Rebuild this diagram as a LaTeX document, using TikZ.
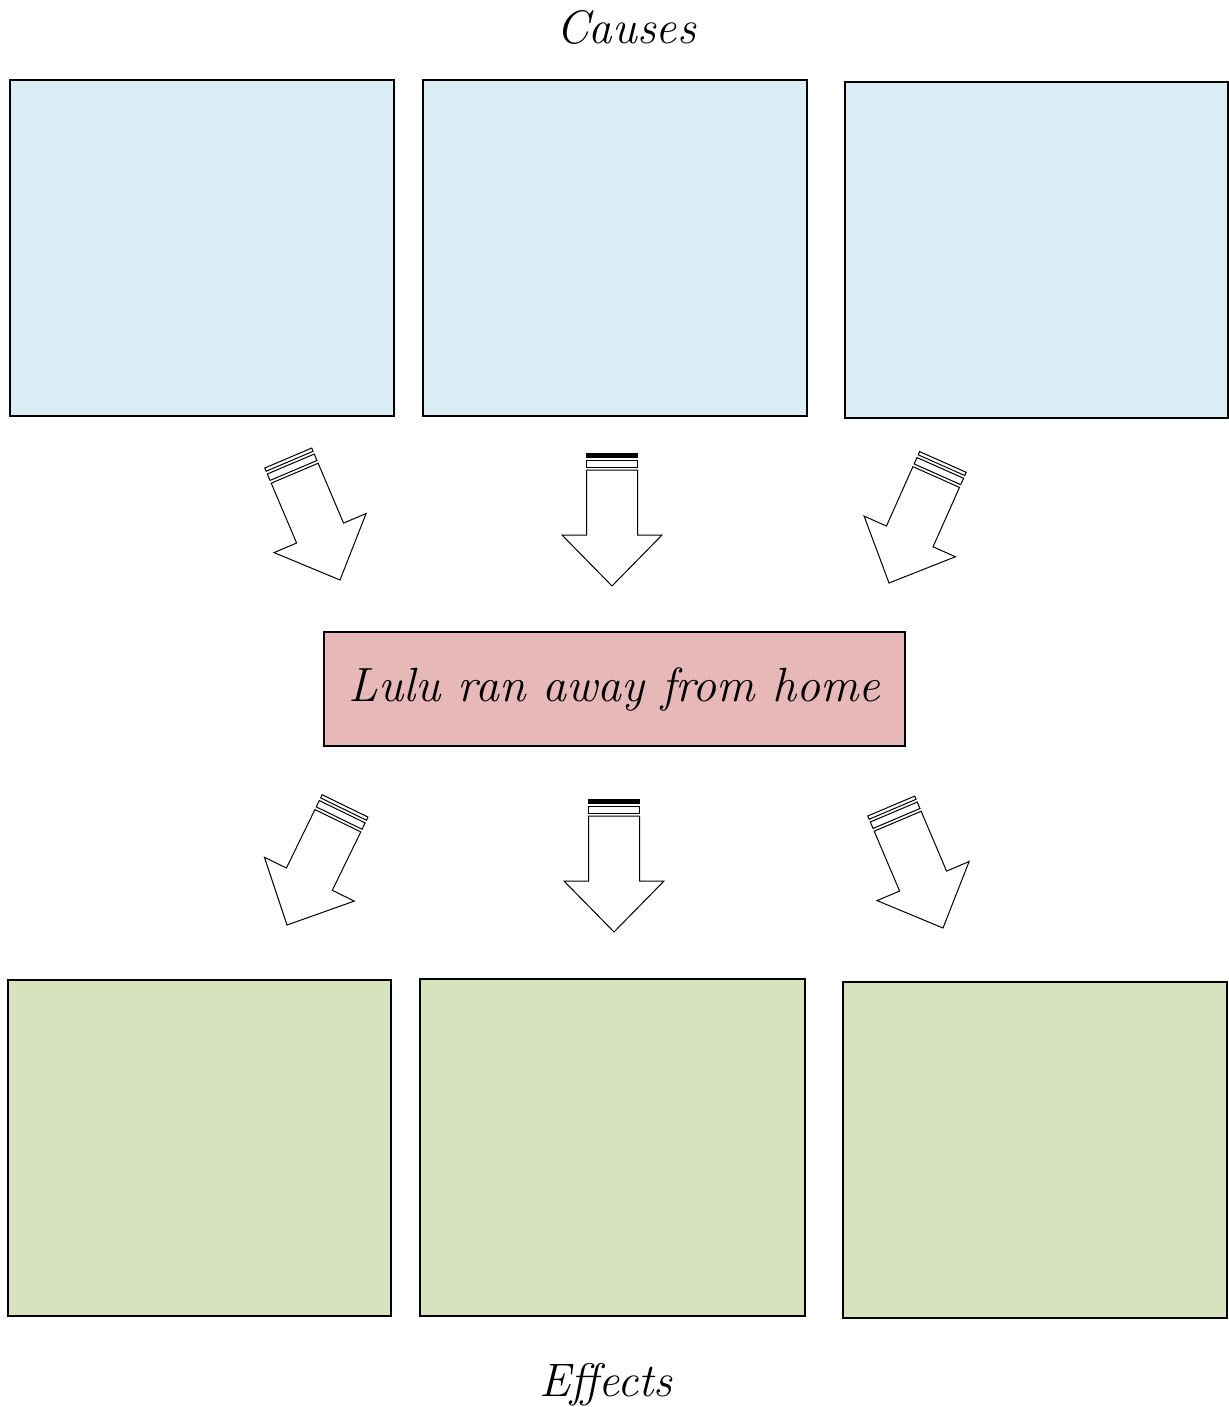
\documentclass[tikz,border=0pt]{standalone}
\usepackage{fontspec}
\definecolor{causeblue}{HTML}{DAEDF4}
\definecolor{effectgreen}{HTML}{D7E3BD}
\definecolor{eventpink}{HTML}{E6B8B7}
\tikzset{
  box/.style={draw=black, line width=1.5pt, inner sep=0pt},
  arrowline/.style={draw=black, fill=white, line width=1pt, line join=miter},
  topbar/.style={arrowline},
  pics/stripearrow/.style={code={
    \draw[arrowline] (0,0) -- (-50,-51) -- (-25.5,-51) -- (-25.5,-116) -- (25.5,-116) -- (25.5,-51) -- (50,-51) -- cycle;
    \draw[arrowline] (-25.5,-119) rectangle (25.5,-126);
    \draw[topbar] (-25.5,-129) rectangle (25.5,-132.5);
  }},
  solidbar/.style={topbar/.style={arrowline, fill=black}},
  title/.style={font=\fontsize{47}{50}\selectfont\itshape},
}
\begin{document}
\begin{tikzpicture}[x=1pt,y=-1pt]
\useasboundingbox (0,0) rectangle (1228,1407);
% titles
\node[title] (causes) at (626,27) {Causes};
\node[title] (effects) at (606,1385) {Effects};
% cause boxes
\node[box, fill=causeblue, minimum width=384pt, minimum height=336pt] (c1) at (202,248) {};
\node[box, fill=causeblue, minimum width=384pt, minimum height=336pt] (c2) at (615,248) {};
\node[box, fill=causeblue, minimum width=383pt, minimum height=336pt] (c3) at (1036.5,250) {};
% event box
\node[box, fill=eventpink, minimum width=581pt, minimum height=114pt,
      font=\fontsize{48}{52}\selectfont\itshape] (event) at (614.5,689) {Lulu ran away from home};
% effect boxes
\node[box, fill=effectgreen, minimum width=383pt, minimum height=336pt] (e1) at (199.5,1148) {};
\node[box, fill=effectgreen, minimum width=385pt, minimum height=337pt] (e2) at (612.5,1147.5) {};
\node[box, fill=effectgreen, minimum width=384pt, minimum height=336pt] (e3) at (1035,1150) {};
% arrows (tips)
\coordinate (t1) at (340,580);
\coordinate (t2) at (612,586);
\coordinate (t3) at (889,583);
\coordinate (b1) at (287,925);
\coordinate (b2) at (614,932);
\coordinate (b3) at (943,928);
\pic[rotate=23] at (t1) {stripearrow};
\pic[solidbar] at (t2) {stripearrow};
\pic[rotate=-24] at (t3) {stripearrow};
\pic[rotate=-26] at (b1) {stripearrow};
\pic[solidbar] at (b2) {stripearrow};
\pic[rotate=23] at (b3) {stripearrow};
\end{tikzpicture}
\end{document}
